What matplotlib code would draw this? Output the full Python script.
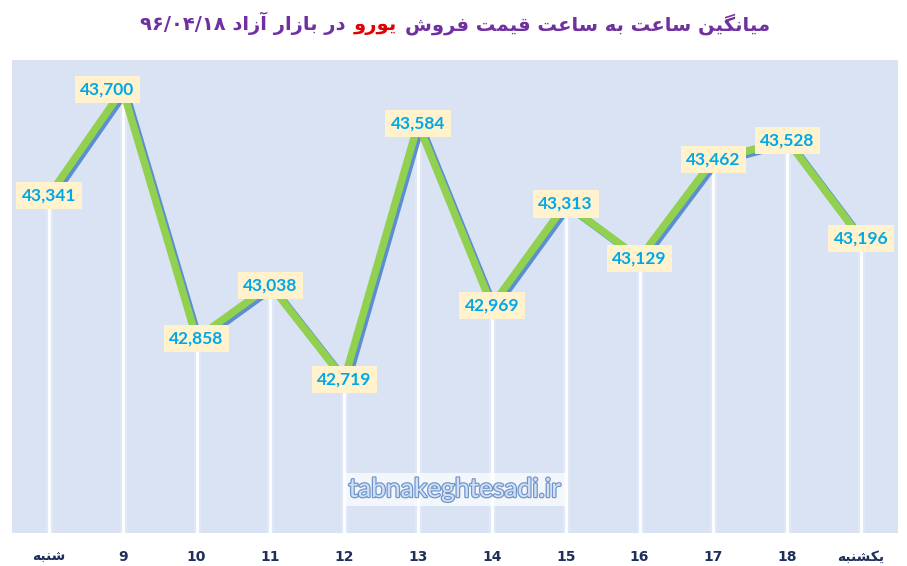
import re
import numpy as np
import matplotlib
matplotlib.use("Agg")
import matplotlib.pyplot as plt
import matplotlib.patheffects as pe
from matplotlib.offsetbox import TextArea, HPacker, AnchoredOffsetbox

hours = ["شنبه", "9", "10", "11", "12", "13", "14", "15", "16", "17", "18", "یکشنبه"]
prices = [43341, 43700, 42858, 43038, 42719, 43584, 42969, 43313, 43129, 43462, 43528, 43196]

title_a = "میانگین ساعت به ساعت قیمت فروش"
title_b = "یورو"
title_c = "در بازار آزاد ۹۶/۰۴/۱۸"

# presentation forms: isolated, final, initial, medial (right-joining letters have 2)
FORMS = {
    "ا": (0xFE8D, 0xFE8E), "آ": (0xFE81, 0xFE82), "د": (0xFEA9, 0xFEAA),
    "ر": (0xFEAD, 0xFEAE), "ز": (0xFEAF, 0xFEB0), "و": (0xFEED, 0xFEEE),
    "ب": (0xFE8F, 0xFE90, 0xFE91, 0xFE92), "ت": (0xFE95, 0xFE96, 0xFE97, 0xFE98),
    "س": (0xFEB1, 0xFEB2, 0xFEB3, 0xFEB4), "ش": (0xFEB5, 0xFEB6, 0xFEB7, 0xFEB8),
    "ع": (0xFEC9, 0xFECA, 0xFECB, 0xFECC), "ف": (0xFED1, 0xFED2, 0xFED3, 0xFED4),
    "ق": (0xFED5, 0xFED6, 0xFED7, 0xFED8), "م": (0xFEE1, 0xFEE2, 0xFEE3, 0xFEE4),
    "ن": (0xFEE5, 0xFEE6, 0xFEE7, 0xFEE8), "ه": (0xFEE9, 0xFEEA, 0xFEEB, 0xFEEC),
    "ی": (0xFBFC, 0xFBFD, 0xFBFE, 0xFBFF), "ک": (0xFB8E, 0xFB8F, 0xFB90, 0xFB91),
    "گ": (0xFB92, 0xFB93, 0xFB94, 0xFB95),
}


def fa(text):
    out = []
    for i, ch in enumerate(text):
        if ch not in FORMS:
            out.append(ch)
            continue
        prev = text[i - 1] if i > 0 else ""
        nxt = text[i + 1] if i + 1 < len(text) else ""
        join_prev = prev in FORMS and len(FORMS[prev]) == 4
        join_next = len(FORMS[ch]) == 4 and nxt in FORMS
        f = FORMS[ch]
        if join_prev and join_next:
            out.append(chr(f[3]))
        elif join_prev:
            out.append(chr(f[1]))
        elif join_next:
            out.append(chr(f[2]))
        else:
            out.append(chr(f[0]))
    vis = "".join(out)[::-1]
    return re.sub(r"[۰-۹0-9/]+", lambda m: m.group(0)[::-1], vis)


fig = plt.figure(figsize=(9.07, 5.66), dpi=100)
fig.patch.set_facecolor("white")
ax = fig.add_axes([12 / 907, 33 / 566, 886 / 907, 473 / 566])
ax.set_facecolor("#DAE3F3")
for s in ax.spines.values():
    s.set_visible(False)

x = np.arange(len(prices))
ax.set_xlim(-0.5, len(prices) - 0.5)
ax.set_ylim(42200, 43800)

ax.vlines(x, 42200, prices, color="white", lw=5, alpha=0.2, zorder=1)
ax.vlines(x, 42200, prices, color="white", lw=2, zorder=2)

ax.plot(x, prices, color="#92D050", lw=5.4, solid_capstyle="butt", zorder=3,
        path_effects=[pe.SimpleLineShadow(offset=(2.0, -1.8), shadow_color="#5B8FD0", alpha=1.0),
                      pe.Normal()])

for i, (xi, v) in enumerate(zip(x, prices)):
    dx = -11 if i == 1 else 0  # the top label sits a bit left of its point
    ax.annotate(f"{v:,}", (xi, v), xytext=(dx, 0), textcoords="offset points",
                ha="center", va="center", fontsize=12.5, fontweight="bold",
                family="Lato", color="#00A8E8", zorder=5,
                bbox=dict(boxstyle="square,pad=0.32", fc="#FFF2CC", ec="none"))

ax.set_yticks([])
ax.set_xticks(x)
ax.set_xticklabels([fa(h) for h in hours], fontsize=10, fontweight="bold", color="#1F2F5C",
                   family="DejaVu Sans")
ax.tick_params(axis="x", length=0, pad=12)

wm = ax.text(0.5, 0.092, "tabnakeghtesadi.ir", transform=ax.transAxes, ha="center", va="center",
             fontsize=19, family="Lato", color="#D2E0F4", zorder=6,
             bbox=dict(boxstyle="square,pad=0.15", fc="white", ec="none", alpha=0.7))
wm.set_path_effects([pe.withStroke(linewidth=1.8, foreground="#7096CC")])

props = dict(fontsize=14, fontweight="bold", family="DejaVu Sans")
parts = [TextArea(fa(title_c), textprops=dict(color="#7030A0", **props)),
         TextArea(fa(title_b), textprops=dict(color="#E00000", **props)),
         TextArea(fa(title_a), textprops=dict(color="#7030A0", **props))]
box = HPacker(children=parts, align="baseline", pad=0, sep=6)
anc = AnchoredOffsetbox(loc="center", child=box, frameon=False, pad=0,
                        bbox_to_anchor=(0.502, 0.958), bbox_transform=fig.transFigure)
fig.add_artist(anc)

fig.savefig("out.png", dpi=100, facecolor="white")
